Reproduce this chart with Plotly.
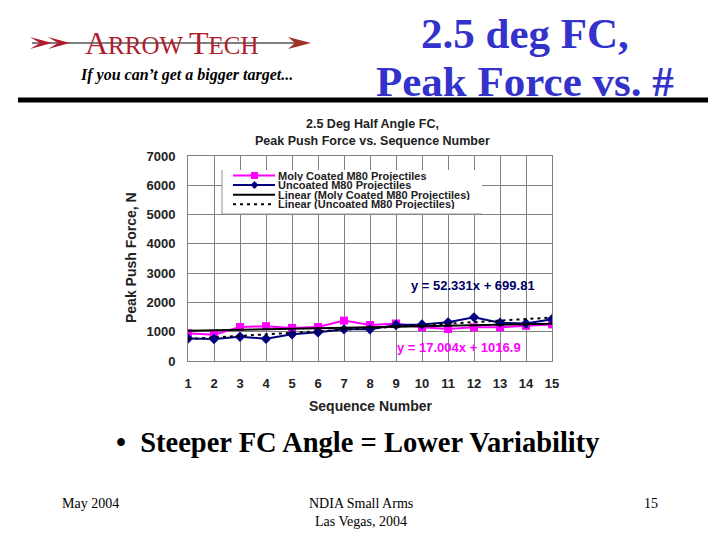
import plotly.graph_objects as go

# data
seq = list(range(1, 16))
moly = [950, 900, 1160, 1190, 1130, 1160, 1380, 1230, 1280, 1150, 1090, 1150, 1150, 1200, 1250]
uncoated = [770, 750, 830, 760, 910, 980, 1080, 1080, 1230, 1250, 1320, 1490, 1310, 1280, 1430]

# trendline equations printed on the chart
moly_slope, moly_icpt = 17.004, 1016.9
unc_slope, unc_icpt = 52.331, 699.81
trend_x = [seq[0], seq[-1]]

y_ticks = list(range(0, 7001, 1000))

SERIF = "Liberation Serif"
SANS = "Liberation Sans"
MAGENTA = "#ff00ff"
NAVY = "#000080"

# the page body has an 8px margin, so the figure starts at (8, 8)
OFF = 8
# plot area in page pixels
L, R, T, B = 188, 552, 156, 361


def px(x):
    return (x - L) / (R - L)


def py(y):
    return (B - y) / (B - T)


fig = go.Figure()

fig.add_trace(go.Scatter(
    x=seq, y=moly, mode="lines+markers", name="Moly Coated M80 Projectiles",
    line=dict(color=MAGENTA, width=2),
    marker=dict(symbol="square", size=8, color=MAGENTA)))
fig.add_trace(go.Scatter(
    x=seq, y=uncoated, mode="lines+markers", name="Uncoated M80 Projectiles",
    line=dict(color=NAVY, width=2),
    marker=dict(symbol="diamond", size=8, color=NAVY)))
fig.add_trace(go.Scatter(
    x=trend_x, y=[moly_slope * x + moly_icpt for x in trend_x], mode="lines",
    name="Linear (Moly Coated M80 Projectiles)",
    line=dict(color="black", width=2)))
fig.add_trace(go.Scatter(
    x=trend_x, y=[unc_slope * x + unc_icpt for x in trend_x], mode="lines",
    name="Linear (Uncoated M80 Projectiles)",
    line=dict(color="black", width=2, dash="3px,4px")))

shapes = []
annos = []


def page_text(x, y, text, size, color="black", family=SERIF, xanchor="center", **kw):
    annos.append(dict(x=px(x), y=py(y), xref="paper", yref="paper", text=text,
                      showarrow=False, xanchor=xanchor, yanchor="middle",
                      font=dict(family=family, size=size, color=color), **kw))


# header: logo
shapes.append(dict(type="line", xref="paper", yref="paper",
                   x0=px(32), x1=px(300), y0=py(43), y1=py(43),
                   line=dict(color="#808080", width=2)))
for dx in (0, 18):
    shapes.append(dict(type="path", xref="paper", yref="paper",
                       path=f"M {px(30+dx)} {py(37)} L {px(52+dx)} {py(43)} L {px(30+dx)} {py(49)} "
                            f"L {px(40+dx)} {py(43)} Z",
                       fillcolor="#b01c2e", line=dict(width=0)))
shapes.append(dict(type="path", xref="paper", yref="paper",
                   path=f"M {px(288)} {py(37)} L {px(311)} {py(43)} L {px(288)} {py(49)} "
                        f"L {px(295)} {py(43)} Z",
                   fillcolor="#a03028", line=dict(width=0)))
page_text(171, 43,
          "<span style='font-size:32px'>A</span>RROW <span style='font-size:32px'>T</span>ECH",
          25, color="#b01c2e")
page_text(186, 75, "<b><i>If you can’t get a bigger target...</i></b>", 16)

# header: slide title
page_text(525, 34, "<b>2.5 deg FC,</b>", 43, color="#3333cc")
page_text(525, 82, "<b>Peak Force vs. #</b>", 43, color="#3333cc")
shapes.append(dict(type="line", xref="paper", yref="paper",
                   x0=px(18), x1=px(708), y0=py(100), y1=py(100),
                   line=dict(color="black", width=5)))

# chart title and axis titles
page_text(372, 124, "<b>2.5 Deg Half Angle FC,</b>", 12.5, color="#222222", family=SANS)
page_text(372, 141, "<b>Peak Push Force vs. Sequence Number</b>", 12.5, color="#222222", family=SANS)
page_text(131, 258, "<b>Peak Push Force, N</b>", 14, color="#222222", family=SANS, textangle=-90)
page_text(370, 406, "<b>Sequence Number</b>", 14, color="#222222", family=SANS)

# equations
page_text(473, 285, "<b>y = 52.331x + 699.81</b>", 13, color="#000066", family=SANS)
page_text(459, 347, "<b>y = 17.004x + 1016.9</b>", 13, color=MAGENTA, family=SANS)

# legend box
shapes.append(dict(type="rect", xref="paper", yref="paper", layer="above",
                   x0=px(222), x1=px(482), y0=py(214), y1=py(170),
                   fillcolor="white", line=dict(width=0)))
shapes.append(dict(type="line", xref="paper", yref="paper", layer="above",
                   x0=px(222), x1=px(222), y0=py(170), y1=py(214),
                   line=dict(color="#909090", width=1)))
shapes.append(dict(type="line", xref="paper", yref="paper", layer="above",
                   x0=px(222), x1=px(482), y0=py(214), y1=py(214),
                   line=dict(color="#909090", width=1)))
legend_rows = [
    ("Moly Coated M80 Projectiles", MAGENTA, "solid", "square"),
    ("Uncoated M80 Projectiles", NAVY, "solid", "diamond"),
    ("Linear (Moly Coated M80 Projectiles)", "black", "solid", None),
    ("Linear (Uncoated M80 Projectiles)", "black", "3px,4px", None),
]
for i, (label, color, dash, sym) in enumerate(legend_rows):
    yy = 175.5 + i * 9.6
    shapes.append(dict(type="line", xref="paper", yref="paper", layer="above",
                       x0=px(233), x1=px(275), y0=py(yy), y1=py(yy),
                       line=dict(color=color, width=2, dash=dash)))
    if sym == "square":
        shapes.append(dict(type="rect", xref="paper", yref="paper", layer="above",
                           x0=px(251), x1=px(258), y0=py(yy + 3.5), y1=py(yy - 3.5),
                           fillcolor=color, line=dict(width=0)))
    elif sym == "diamond":
        shapes.append(dict(type="path", xref="paper", yref="paper", layer="above",
                           path=f"M {px(254.5)} {py(yy-4)} L {px(258.5)} {py(yy)} "
                                f"L {px(254.5)} {py(yy+4)} L {px(250.5)} {py(yy)} Z",
                           fillcolor=color, line=dict(width=0)))
    page_text(276, yy, "<b>" + label + "</b>", 11, color="#222222", family=SANS,
              xanchor="left", height=10)

# bullet and footer
page_text(358, 442, "<b>•  Steeper FC Angle = Lower Variability</b>", 28.5)
page_text(60, 503, "May 2004", 14, xanchor="left")
page_text(361, 503, "NDIA Small Arms", 14)
page_text(361, 521, "Las Vegas, 2004", 14)
page_text(660, 503, "15", 14, xanchor="right")

fig.update_layout(
    width=720 - OFF, height=540 - OFF, autosize=False,
    margin=dict(l=L - OFF, r=720 - R, t=T - OFF, b=540 - B),
    paper_bgcolor="white", plot_bgcolor="white",
    showlegend=False,
    shapes=shapes, annotations=annos,
    xaxis=dict(range=[1, 15], tickvals=seq, showgrid=True, gridcolor="#808080",
               gridwidth=1, zeroline=False, showline=True, linecolor="#808080",
               mirror=True, ticks="", ticklabelstandoff=10,
               tickfont=dict(family=SANS, size=13, color="#222222", weight="bold")),
    yaxis=dict(range=[0, 7000], tickvals=y_ticks, showgrid=True, gridcolor="#808080",
               gridwidth=1, zeroline=False, showline=True, linecolor="#808080",
               mirror=True, ticks="", ticklabelstandoff=9,
               tickfont=dict(family=SANS, size=13, color="#222222", weight="bold")),
)

fig.write_html("out.html")
